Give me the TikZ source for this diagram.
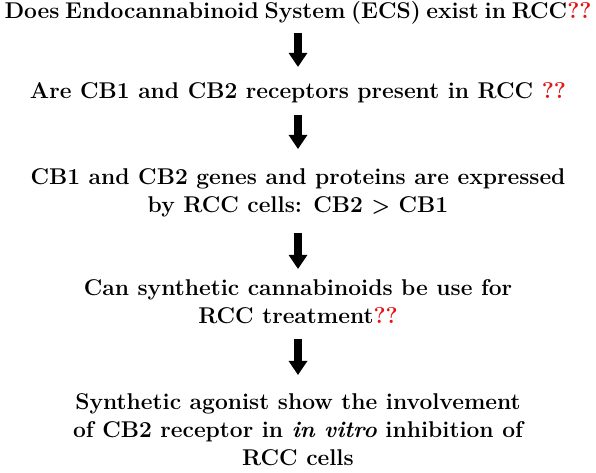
\documentclass[tikz,border=0pt]{standalone}
\usepackage{tikz}
\usetikzlibrary{arrows.meta}
\definecolor{qred}{RGB}{228,20,20}
\newcommand{\qmarks}{\textcolor{qred}{??}}

\begin{document}
\begin{tikzpicture}[x=1pt,y=-1pt,
  stage/.style={inner sep=0pt, outer sep=0pt, anchor=base, align=center,
    font=\fontsize{22.8}{28}\selectfont\bfseries\boldmath},
  blockarrow/.style={line width=8pt, draw=black,
    -{Triangle[width=19pt,length=14pt,line width=0pt]}}]
\useasboundingbox (0,0) rectangle (596,472);
% Questions and findings (placed on their last baseline)
\node[stage] (q1) at (298,18) {\spaceskip=.25em Does Endocannabinoid System (ECS) exist in RCC\qmarks};
\node[stage] (q2) at (298,98) {Are CB1 and CB2 receptors present in RCC \qmarks};
\node[stage] (q3) at (298,212) {CB1 and CB2 genes and proteins are expressed\\ by RCC cells: CB2 $>$ CB1};
\node[stage] (q4) at (298,323) {Can synthetic cannabinoids be use for\\ RCC treatment\qmarks};
\node[stage] (q5) at (298,465) {Synthetic agonist show the involvement\\ of CB2 receptor in \textit{in vitro} inhibition of\\ RCC cells};
% Block arrows between the steps
\draw[blockarrow, shorten <=9.3pt, shorten >=15.2pt] (q1.south) -- (q2.north);
\draw[blockarrow, shorten <=12.6pt, shorten >=19.2pt] (q2.south) -- (q3.north);
\draw[blockarrow, shorten <=16.6pt, shorten >=10.2pt] (q3.south) -- (q4.north);
\draw[blockarrow, shorten <=16pt, shorten >=18.2pt] (q4.south) -- (q5.north);
\end{tikzpicture}
\end{document}
